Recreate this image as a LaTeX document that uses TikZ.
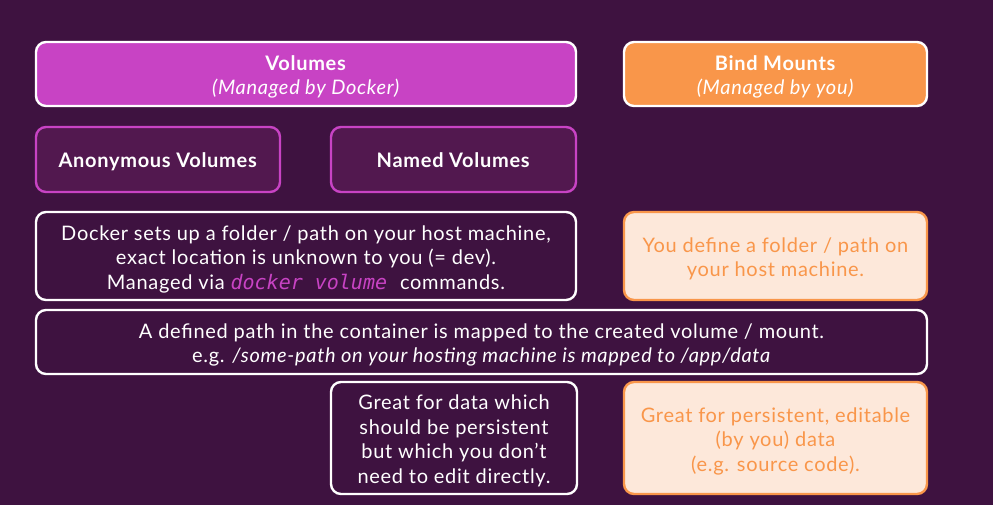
\documentclass[tikz,border=0pt]{standalone}
\usepackage{fontspec}
\setmainfont[LetterSpace=3.5]{Lato}
\newfontfamily\codefont{DejaVu Sans Mono}
\definecolor{bgc}{HTML}{3E1240}
\definecolor{mag}{HTML}{C843C4}
\definecolor{anonfill}{HTML}{52184F}
\definecolor{orng}{HTML}{F9964A}
\definecolor{peach}{HTML}{FDE8DA}
\begin{document}
\begin{tikzpicture}[x=1pt,y=-1pt,
  box/.style={rectangle, rounded corners=10pt, line width=2.4pt, inner sep=0pt},
  txt/.style={align=center, inner sep=0pt, font=\fontsize{20}{24.5}\selectfont},
  titlevol/.style={box, fill=mag, draw=white},
  titlebind/.style={box, fill=orng, draw=white},
  subvol/.style={box, fill=anonfill, draw=mag},
  darkbox/.style={box, fill=bgc, draw=white},
  peachbox/.style={box, fill=peach, draw=orng},
  wtxt/.style={txt, text=white},
  otxt/.style={txt, text=orng}]
\fill[bgc] (0,0) rectangle (993,505);
\useasboundingbox (0,0) rectangle (993,505);

\node[titlevol, minimum width=540pt, minimum height=64pt] (vol) at (306,74) {};
\node[wtxt] (volt) at ([yshift=-3pt]vol.center)
  {\textbf{Volumes}\\\textit{(Managed by Docker)}};
\node[titlebind, minimum width=303pt, minimum height=64pt] (bind) at (775.5,74) {};
\node[wtxt] (bindt) at ([yshift=-3pt]bind.center)
  {\textbf{Bind Mounts}\\\textit{(Managed by you)}};

\node[subvol, minimum width=244pt, minimum height=65pt] (anon) at (158,159.5) {};
\node[wtxt, text height=14pt, text depth=4pt] (anont) at ([yshift=-3pt]anon.center)
  {\textbf{Anonymous Volumes}};
\node[subvol, minimum width=245pt, minimum height=65pt] (named) at (453.5,159.5) {};
\node[wtxt, text height=14pt, text depth=4pt] (namedt) at ([yshift=-3pt]named.center)
  {\textbf{Named Volumes}};

\node[darkbox, minimum width=540pt, minimum height=88pt] (docker) at (306,256) {};
\node[wtxt] (dockert) at ([yshift=-3pt]docker.center)
  {Docker sets up a folder / path on your host machine,\\
   exact location is unknown to you (= dev).\\
   Managed via {\codefont\itshape\color{mag}docker volume}\hspace{13pt}commands.};
\node[peachbox, minimum width=303pt, minimum height=88pt] (define) at (775.5,256) {};
\node[otxt] (definet) at ([yshift=-3pt]define.center)
  {You define a folder / path on\\your host machine.};

\node[darkbox, minimum width=891pt, minimum height=64pt] (map) at (481.5,342) {};
\node[wtxt] (mapt) at ([yshift=-3pt]map.center)
  {A defined path in the container is mapped to the created volume / mount.\\
   e.g. \textit{/some-path on your hosting machine is mapped to /app/data}};

\node[darkbox, minimum width=246pt, minimum height=112pt] (great1) at (454,438) {};
\node[wtxt] (great1t) at ([yshift=-3pt]great1.center)
  {Great for data which\\should be persistent\\but which you don't\\need to edit directly.};
\node[peachbox, minimum width=303pt, minimum height=112pt] (great2) at (775.5,438) {};
\node[otxt] (great2t) at ([yshift=-3pt]great2.center)
  {Great for persistent, editable\\(by you) data\\(e.g. source code).};
\end{tikzpicture}
\end{document}
